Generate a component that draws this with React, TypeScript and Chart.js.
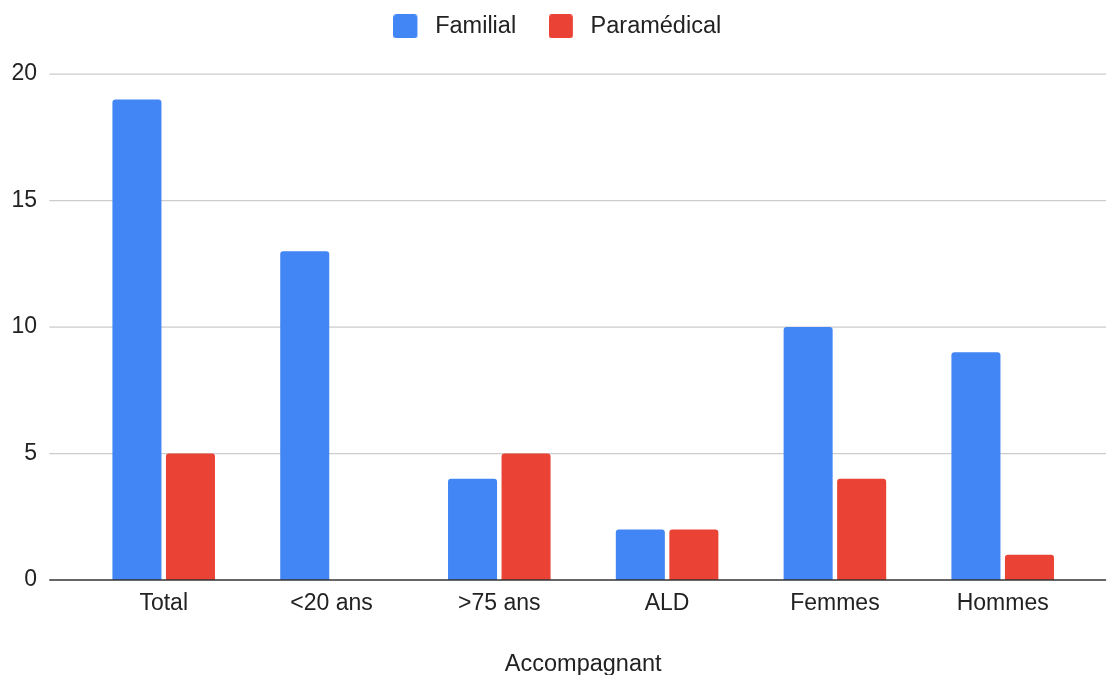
import React, { useEffect, useRef } from 'react';
import { Chart, registerables } from 'chart.js';

Chart.register(...registerables);

const categories = ['Total', '<20 ans', '>75 ans', 'ALD', 'Femmes', 'Hommes'];
const familial = [19, 13, 4, 2, 10, 9];
const paramedical = [5, 0, 5, 2, 4, 1];
const seriesNames = ['Familial', 'Paramédical'];
const seriesColors = ['#4285F4', '#EA4335'];
const yMin = 0;
const yMax = 20;
const yStep = 5;
const xTitle = 'Accompagnant';

const FONT = "'Liberation Sans', Arial, Helvetica, sans-serif";
const TEXT = '#222222';

function makeLegendIcon(color: string): HTMLCanvasElement {
  const c = document.createElement('canvas');
  c.width = 30;
  c.height = 24;
  const g = c.getContext('2d');
  if (g) {
    g.fillStyle = color;
    g.beginPath();
    const r = 3, w = 24, h = 24;
    g.moveTo(r, 0);
    g.lineTo(w - r, 0);
    g.quadraticCurveTo(w, 0, w, r);
    g.lineTo(w, h - r);
    g.quadraticCurveTo(w, h, w - r, h);
    g.lineTo(r, h);
    g.quadraticCurveTo(0, h, 0, h - r);
    g.lineTo(0, r);
    g.quadraticCurveTo(0, 0, r, 0);
    g.closePath();
    g.fill();
  }
  return c;
}

const legendSpacer = {
  id: 'legendSpacer',
  beforeLayout(chart: any) {
    const lg = chart.legend;
    if (lg && !lg._spacerPatched) {
      const orig = lg.fit;
      lg.fit = function () {
        orig.call(this);
        this.height += 26;
      };
      lg._spacerPatched = true;
    }
  },
};

const wideGrid = {
  id: 'wideGrid',
  beforeDatasetsDraw(chart: any) {
    const { ctx, chartArea, scales } = chart;
    const y = scales.y;
    const x0 = chartArea.left - 30.5;
    const x1 = chartArea.right + 19.5;
    ctx.save();
    ctx.strokeStyle = '#cccccc';
    ctx.lineWidth = 1.2;
    y.ticks.forEach((t: any) => {
      if (t.value === 0) return;
      const py = y.getPixelForValue(t.value);
      ctx.beginPath();
      ctx.moveTo(x0, py);
      ctx.lineTo(x1, py);
      ctx.stroke();
    });
    ctx.restore();
  },
  afterDatasetsDraw(chart: any) {
    const { ctx, chartArea, scales } = chart;
    const y = scales.y;
    const x0 = chartArea.left - 30.5;
    const x1 = chartArea.right + 19.5;
    const py = y.getPixelForValue(0);
    ctx.save();
    ctx.strokeStyle = '#333333';
    ctx.lineWidth = 1.6;
    ctx.beginPath();
    ctx.moveTo(x0, py);
    ctx.lineTo(x1, py);
    ctx.stroke();
    ctx.restore();
  },
};

export default function App() {
  const canvasRef = useRef<HTMLCanvasElement | null>(null);

  useEffect(() => {
    if (!canvasRef.current) return;
    const icons = seriesColors.map(makeLegendIcon);
    const chart = new Chart(canvasRef.current, {
      type: 'bar',
      data: {
        labels: categories,
        datasets: [
          {
            label: seriesNames[0],
            data: familial,
            backgroundColor: seriesColors[0],
            borderRadius: 3,
            borderSkipped: 'start',
            categoryPercentage: 0.638,
            barPercentage: 0.916,
          },
          {
            label: seriesNames[1],
            data: paramedical,
            backgroundColor: seriesColors[1],
            borderRadius: 3,
            borderSkipped: 'start',
            categoryPercentage: 0.638,
            barPercentage: 0.916,
          },
        ],
      },
      options: {
        responsive: false,
        animation: false,
        layout: { padding: { top: -18.1, left: 7.6, right: 0, bottom: 0 } },
        plugins: {
          tooltip: { enabled: false },
          legend: {
            position: 'top',
            align: 'center',
            labels: {
              usePointStyle: true,
              pointStyleWidth: 30,
              boxWidth: 30,
              boxHeight: 24,
              padding: 32.7,
              color: TEXT,
              font: { family: FONT, size: 23.5 },
              generateLabels: (ch: any) =>
                ch.data.datasets.map((ds: any, i: number) => ({
                  text: ds.label,
                  fillStyle: ds.backgroundColor,
                  strokeStyle: ds.backgroundColor,
                  lineWidth: 0,
                  pointStyle: icons[i],
                  hidden: false,
                  datasetIndex: i,
                  fontColor: TEXT,
                })),
            },
          },
        },
        scales: {
          x: {
            grid: { display: false, drawTicks: false },
            border: { display: false },
            ticks: {
              color: TEXT,
              font: { family: FONT, size: 23 },
              padding: 10,
              maxRotation: 0,
              autoSkip: false,
            },
            title: {
              display: true,
              text: xTitle,
              color: TEXT,
              font: { family: FONT, size: 23.5 },
              padding: { top: 4, bottom: -3.5 },
            },
            afterFit: (axis: any) => {
              axis.height = 95;
            },
          },
          y: {
            min: yMin,
            max: yMax,
            grid: { display: false, drawTicks: false },
            border: { display: false },
            ticks: {
              stepSize: yStep,
              color: TEXT,
              font: { family: FONT, size: 23 },
              padding: 42.8,
            },
            afterFit: (axis: any) => {
              axis.width = 72.2;
            },
          },
          yRight: {
            type: 'linear',
            position: 'right',
            min: yMin,
            max: yMax,
            grid: { display: false, drawTicks: false },
            border: { display: false },
            ticks: { display: false },
            afterFit: (axis: any) => {
              axis.width = 20.4;
            },
          },
        },
      },
      plugins: [legendSpacer, wideGrid],
    });
    return () => chart.destroy();
  }, []);

  return (
    <div style={{ position: 'fixed', left: 0, top: 0, width: 1107, height: 675, background: '#ffffff' }}>
      <canvas ref={canvasRef} width={1107} height={675} style={{ display: 'block' }} />
    </div>
  );
}
